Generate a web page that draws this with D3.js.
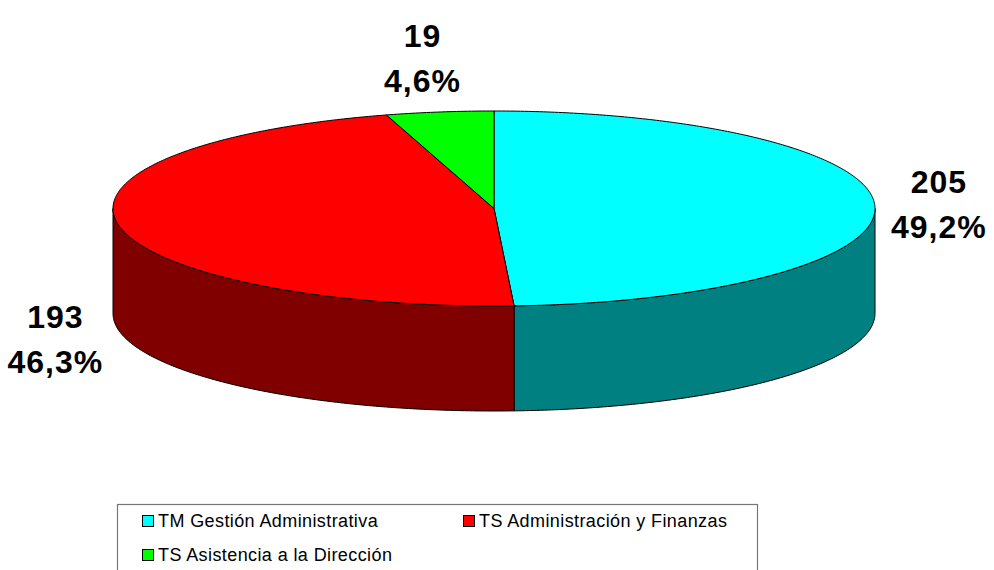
<!DOCTYPE html>
<html>
<head>
<meta charset="utf-8">
<script src="https://cdn.jsdelivr.net/npm/d3@7"></script>
<style>
  body { margin: 0; background: #fff; }
  svg { display: block; font-family: "Liberation Sans", Arial, sans-serif; }
</style>
</head>
<body>
<div id="chart"></div>
<script>
// chart data
const categories = ["TM Gestión Administrativa", "TS Administración y Finanzas", "TS Asistencia a la Dirección"];
const values = [205, 193, 19];
const topColors = ["#00FFFF", "#FF0000", "#00FF00"];
const sideColors = ["#008080", "#800000", "#008000"];

const width = 994, height = 570;
const cx = 494, cy = 208.5, rx = 381, ry = 97.5, depth = 105;

const svg = d3.select("#chart").append("svg")
    .attr("width", width)
    .attr("height", height);

const total = d3.sum(values);
const pie = d3.pie().sort(null).startAngle(0).endAngle(2 * Math.PI);
const arcs = pie(values);

// projection of an angle (clockwise from 12 o'clock) onto the tilted ellipse
const px = a => cx + rx * Math.sin(a);
const py = (a, dz = 0) => cy - ry * Math.cos(a) + dz;

function arcPoints(a0, a1, dz) {
    const n = Math.max(2, Math.ceil((a1 - a0) / 0.01));
    return d3.range(n + 1).map(i => {
        const a = a0 + (a1 - a0) * i / n;
        return [px(a), py(a, dz)];
    });
}

const line = d3.line();

function topPath(d) {
    const pts = [[cx, cy]].concat(arcPoints(d.startAngle, d.endAngle, 0));
    return line(pts) + "Z";
}

function sidePath(d) {
    const a0 = Math.max(d.startAngle, Math.PI / 2);
    const a1 = Math.min(d.endAngle, 3 * Math.PI / 2);
    if (a1 <= a0) return null;
    const upper = arcPoints(a0, a1, 0);
    const lower = arcPoints(a0, a1, depth).reverse();
    return line(upper.concat(lower)) + "Z";
}

// front sides
svg.append("g").selectAll("path")
    .data(arcs.filter(d => sidePath(d)))
    .join("path")
    .attr("d", sidePath)
    .attr("fill", d => sideColors[d.index])
    .attr("stroke", "#000")
    .attr("stroke-width", 1);

// top faces
svg.append("g").selectAll("path")
    .data(arcs)
    .join("path")
    .attr("d", topPath)
    .attr("fill", d => topColors[d.index])
    .attr("stroke", "#000")
    .attr("stroke-width", 1);

// labels
const pctFmt = v => (v * 100).toFixed(1).replace(".", ",") + "%";
const labels = svg.append("g").selectAll("text")
    .data(arcs)
    .join("text")
    .attr("text-anchor", "middle")
    .attr("font-weight", "bold")
    .attr("font-size", 32)
    .attr("letter-spacing", 1)
    .attr("fill", "#000")
    .attr("transform", d => {
        const m = (d.startAngle + d.endAngle) / 2;
        const x = cx + (rx + 64) * Math.sin(m) + (Math.cos(m) > 0.9 ? -8 : 0);
        let y = cy - (ry + 55) * Math.cos(m);
        if (Math.cos(m) < 0) y += depth;
        return `translate(${x},${y})`;
    });
labels.append("tspan").attr("x", 0).attr("y", -11).text(d => d.data);
labels.append("tspan").attr("x", 0).attr("y", 34).text(d => pctFmt(d.data / total));

// legend
const legend = svg.append("g");
legend.append("rect")
    .attr("x", 117.5).attr("y", 504.5)
    .attr("width", 640).attr("height", 90)
    .attr("fill", "#fff")
    .attr("stroke", "#777")
    .attr("stroke-width", 1.2);

const legendPos = [[142, 515], [463, 515], [142, 549]];
const items = legend.selectAll("g.item")
    .data(categories)
    .join("g")
    .attr("class", "item")
    .attr("transform", (d, i) => `translate(${legendPos[i][0]},${legendPos[i][1]})`);
items.append("rect")
    .attr("x", 0.5).attr("y", 0.5)
    .attr("width", 11).attr("height", 11)
    .attr("fill", (d, i) => topColors[i])
    .attr("stroke", "#000");
items.append("text")
    .attr("x", 16).attr("y", 12)
    .attr("font-size", 18)
    .attr("letter-spacing", 0.4)
    .attr("fill", "#000")
    .text(d => d);
</script>
</body>
</html>
